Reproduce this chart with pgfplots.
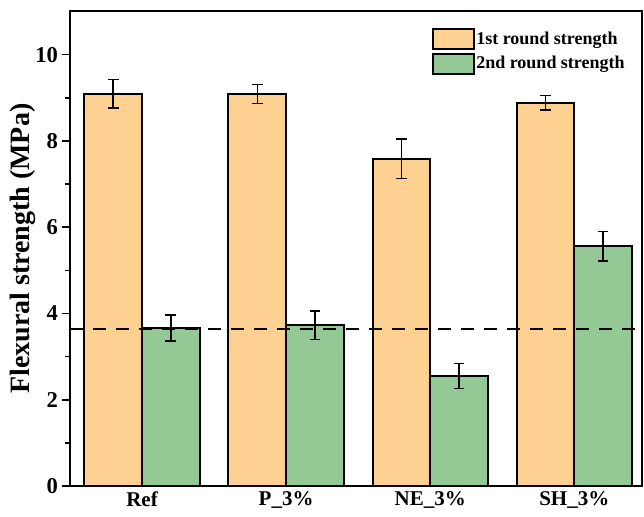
\documentclass[border=0pt]{standalone}
\usepackage{fontspec}
\setmainfont{Liberation Serif}
\usepackage{pgfplots}
\pgfplotsset{compat=1.18}
\definecolor{barorange}{RGB}{254,208,146}
\definecolor{bargreen}{RGB}{148,201,150}
\begin{document}
\begin{tikzpicture}
\begin{axis}[
  ybar,
  bar width=0.4,
  name=ax,
  scale only axis,
  width=286pt, height=237.25pt,
  xmin=-0.5, xmax=3.47,
  ymin=0, ymax=11,
  ytick={0,2,4,6,8,10},
  minor y tick num=1,
  xtick={0,1,2,3},
  xticklabels={Ref, P\_3\%, NE\_3\%, SH\_3\%},
  tick pos=left,
  tick align=outside,
  major tick length=3.8pt,
  minor tick length=2.5pt,
  x tick style={draw=none},
  every tick/.style={black, line width=0.8pt},
  axis line style={line width=1pt},
  /pgf/number format/assume math mode=true,
  yticklabel style={font=\fontsize{11.3}{13}\selectfont\bfseries, inner sep=1pt, xshift=-1pt},
  xticklabel style={font=\fontsize{10.5}{12}\selectfont\bfseries, inner sep=1pt, yshift=2pt},
  ylabel={Flexural strength (MPa)},
  every axis y label/.style={at={(axis description cs:-0.0825,0.5)}, rotate=90, anchor=center, font=\fontsize{14}{16}\selectfont\bfseries},
  legend style={draw=none, fill=none, at={(0.632,0.965)}, anchor=north west, inner sep=0pt,
    font=\fontsize{9}{10.5}\selectfont\bfseries, row sep=1.2pt,
    nodes={inner sep=0.7pt}},
  legend cell align=left,
  legend image code/.code={\draw[#1, line width=1pt] (0pt,-5pt) rectangle (20.5pt,5pt);},
]
\addplot[fill=barorange, draw=black, line width=1pt, bar shift=-0.2,
  error bars/.cd, y dir=both, y explicit,
  error bar style={line width=0.8pt, black},
  error mark options={rotate=90, mark size=2.7pt, line width=0.8pt, black}]
  coordinates {(0,9.09) +- (0,0.33) (1,9.09) +- (0,0.22) (2,7.59) +- (0,0.46) (3,8.88) +- (0,0.17)};
\addlegendentry{1st round strength}
\addplot[fill=bargreen, draw=black, line width=1pt, bar shift=0.2,
  error bars/.cd, y dir=both, y explicit,
  error bar style={line width=0.8pt, black},
  error mark options={rotate=90, mark size=2.7pt, line width=0.8pt, black}]
  coordinates {(0,3.66) +- (0,0.30) (1,3.73) +- (0,0.33) (2,2.55) +- (0,0.29) (3,5.56) +- (0,0.34)};
\addlegendentry{2nd round strength}
\addplot[sharp plot, black, line width=1pt, dash pattern=on 6.5pt off 5pt, forget plot]
  coordinates {(-0.5,3.65) (3.47,3.65)};
\end{axis}
\path (ax.south west) ++(-35pt,-15.5pt);
\path (ax.north east) ++(1pt,5.75pt);
\end{tikzpicture}
\end{document}
